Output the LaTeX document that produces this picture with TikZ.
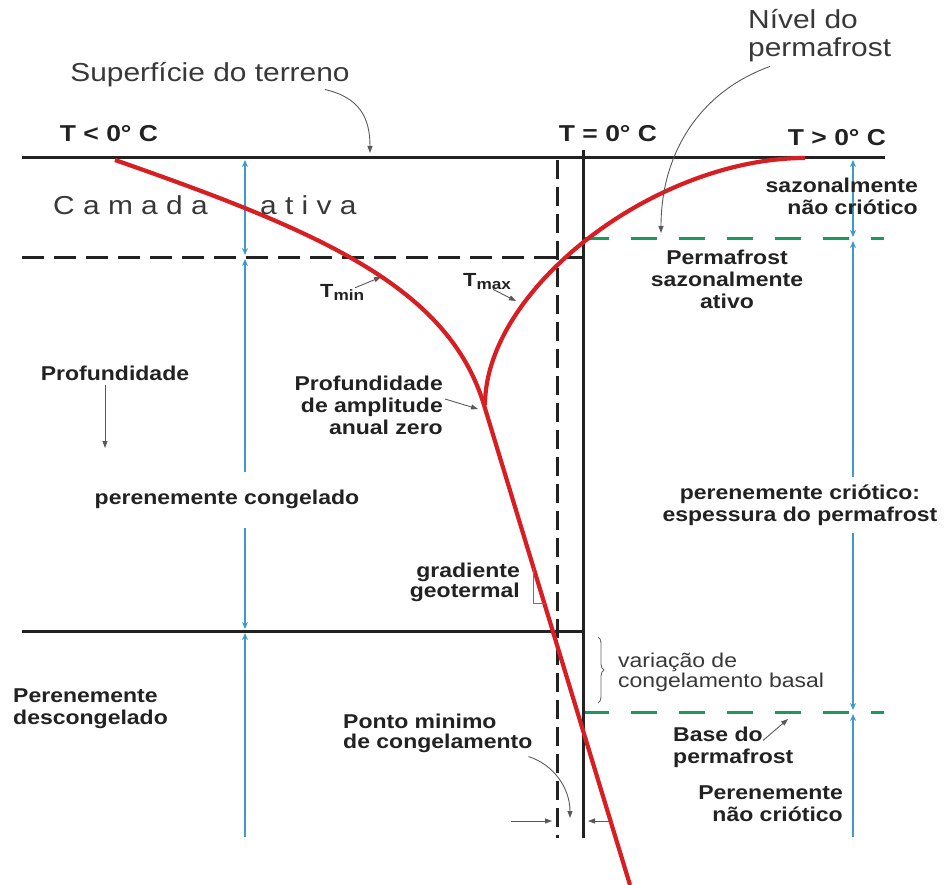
\documentclass[tikz,border=0pt]{standalone}
\usepackage{fontspec}
\setmainfont{Liberation Sans}[FakeStretch=1.15]
\usepackage{tikz}
\usetikzlibrary{arrows.meta,positioning,decorations.pathreplacing}
\definecolor{redc}{HTML}{D71E23}
\definecolor{bluec}{HTML}{3C9BCB}
\definecolor{greenc}{HTML}{1B9A5E}
\definecolor{inkc}{HTML}{222222}
\tikzset{
  blk/.style={line width=3pt,inkc},
  blkd/.style={blk,dash pattern=on 19pt off 8pt},
  grn/.style={line width=3pt,greenc,dash pattern=on 26pt off 22pt},
  blu/.style={line width=1.9pt,bluec},
  curve/.style={redc,line width=4.2pt,line join=round},
  ann/.style={-{Triangle[length=7pt,width=5pt]},line width=0.9pt,black!65},
  lbl/.style={font=\fontsize{20}{22}\selectfont\bfseries,text=inkc,inner sep=0pt,align=center},
  hdr/.style={font=\fontsize{23}{25}\selectfont\bfseries,text=inkc,inner sep=0pt},
  txt/.style={font=\fontsize{26}{28}\selectfont,text=inkc!90,inner sep=0pt,align=left},
  sml/.style={font=\fontsize{20}{20}\selectfont,text=inkc!90,inner sep=0pt,align=left}
}
\begin{document}
\begin{tikzpicture}[x=1pt,y=-1pt]
\useasboundingbox (0,0) rectangle (944,885);
% layer boundaries
\draw[blk] (22,158) -- (885,158);
\draw[blk,dash pattern=on 22pt off 10pt] (22,257) -- (583,257);
\draw[blk] (22,631) -- (583,631);
\draw[grn] (583,239) -- (884,239);
\draw[grn] (583,712) -- (884,712);
\draw[blk] (583,150) -- (583,838);
\draw[blkd] (557,160) -- (557,838);
% blue thickness bars
\foreach \x/\a/\b/\c/\d in {245/160/255/259/472,853/160/237/241/477}{
  \draw[blu,{Stealth[length=7pt,width=6pt]}-{Stealth[length=7pt,width=6pt]}] (\x,\a) -- (\x,\b);
  \draw[blu,{Stealth[length=7pt,width=6pt]}-] (\x,\c) -- (\x,\d);}
\draw[blu,-{Stealth[length=7pt,width=6pt]}] (245,528) -- (245,629);
\draw[blu,{Stealth[length=7pt,width=6pt]}-] (245,633) -- (245,837);
\draw[blu,-{Stealth[length=7pt,width=6pt]}] (853,533) -- (853,710);
\draw[blu,{Stealth[length=7pt,width=6pt]}-] (853,714) -- (853,837);
% temperature envelopes
\draw[curve] (115,160) .. controls (315,230) and (448,285) .. (484,405) -- (630,885);
\draw[curve] (805,158) .. controls (655,158) and (485,289) .. (485,405);
% gradient mark and brace
\draw[black!55,line width=0.9pt] (533,568) -- (533,603) -- (545,603);
\draw[decorate,decoration={brace,amplitude=6pt},black!60,line width=0.9pt] (598,637) -- (598,703);
% labels
\node[txt] (sup) at (210,75) {Superfície do terreno};
\node[hdr] (tneg) at (109,134) {T < 0° C};
\node[hdr] (tzero) at (608,134) {T = 0° C};
\node[hdr] (tpos) at (837,138) {T > 0° C};
\node[txt,anchor=west] (niv) at (748,36) {Nível do\\permafrost};
\node[txt,anchor=west] (cam) at (53,205) {C a m a d a};
\node[txt,anchor=west] (ativ) at (260,205) {a t i v a};
\node[lbl,anchor=east,align=right] (snc) at (918,196) {sazonalmente\\não criótico};
\node[lbl] (psa) at (727,279) {Permafrost\\sazonalmente\\ativo};
\node[hdr,anchor=west,font=\fontsize{19}{20}\selectfont\bfseries] (tmax) at (463,282) {T\raisebox{-3pt}{\fontsize{15}{15}\selectfont max}};
\node[hdr,anchor=west,font=\fontsize{19}{20}\selectfont\bfseries] (tmin) at (320,292) {T\raisebox{-3pt}{\fontsize{15}{15}\selectfont min}};
\node[lbl] (prof) at (115,373) {Profundidade};
\node[lbl,anchor=east,align=right] (pza) at (443,405) {Profundidade\\de amplitude\\anual zero};
\node[lbl] (pcg) at (227,499) {perenemente congelado};
\node[lbl] (pcr) at (800,505) {perenemente criótico:\\espessura do permafrost};
\node[lbl,anchor=east,align=right,font=\fontsize{20}{20}\selectfont\bfseries] (grad) at (520,582) {gradiente\\geotermal};
\node[sml,anchor=west] (vcb) at (618,672) {variação de\\congelamento basal};
\node[lbl,anchor=west,align=left] (pdc) at (13,709) {Perenemente\\descongelado};
\node[lbl,anchor=west,align=left,font=\fontsize{20}{20}\selectfont\bfseries] (pmc) at (343,733) {Ponto minimo\\de congelamento};
\node[lbl,anchor=west,align=left] (bdp) at (673,747) {Base do\\permafrost};
\node[lbl,anchor=east,align=right] (pnc) at (843,804) {Perenemente\\não criótico};
% pointers
\coordinate (gnd) at (370,153);
\coordinate (pfl) at (661,233);
\coordinate (cusp) at (478,409);
\coordinate (tminp) at (381,277);
\coordinate (tmaxp) at (516,301);
\coordinate (depth) at (105,448);
\coordinate (pmp) at (570,818);
\coordinate (bpf) at (788,719);
\coordinate (dz) at (557,821);
\coordinate (sz) at (583,821);
\draw[ann] ([xshift=-25pt,yshift=-2pt]sup.south east) .. controls +(35,8) and +(0,-35) .. (gnd);
\draw[ann] ([xshift=22pt,yshift=-4pt]niv.south west) .. controls +(-70,25) and +(0,-80) .. (pfl);
\draw[ann] ([xshift=35pt,yshift=-4pt]tmin.north west) .. controls +(10,-4) .. (tminp);
\draw[ann] ([xshift=30pt,yshift=1pt]tmax.south west) -- (tmaxp);
\draw[ann] ([xshift=2pt,yshift=6pt]pza.east) -- (cusp);
\draw[ann] ([xshift=-10pt,yshift=-4pt]prof.south) -- (depth);
\draw[ann] ([xshift=-4pt,yshift=-4pt]pmc.south east) .. controls +(25,8) and +(0,-30) .. (pmp);
\draw[ann] ([xshift=90pt,yshift=-14pt]bdp.north west) -- (bpf);
\draw[ann] ([xshift=-46pt]dz) -- ([xshift=-5pt]dz);
\draw[ann] ([xshift=30pt]sz) -- ([xshift=5pt]sz);
\end{tikzpicture}
\end{document}
